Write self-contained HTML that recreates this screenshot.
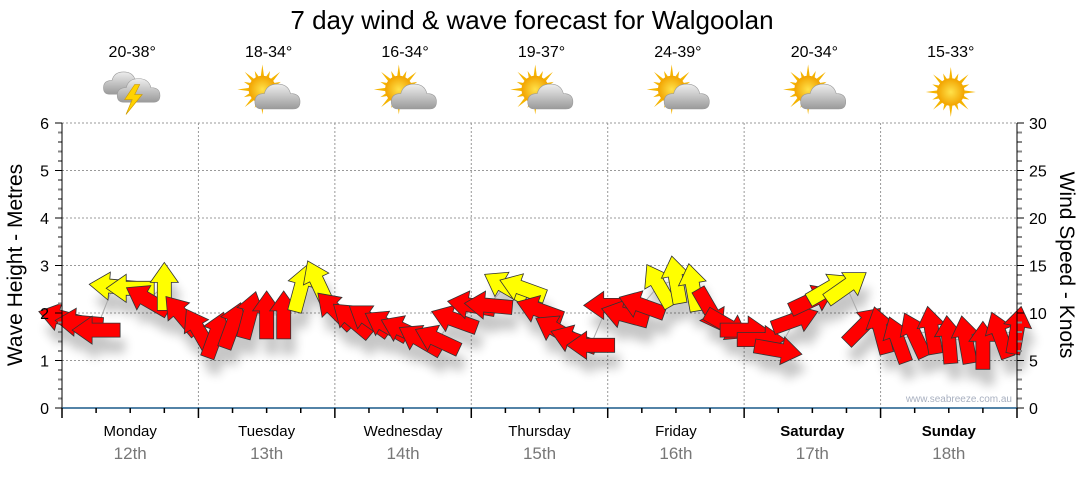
<!DOCTYPE html>
<html><head><meta charset="utf-8"><style>
body{margin:0;background:#fff;width:1080px;height:475px;overflow:hidden;font-family:"Liberation Sans",sans-serif}
svg text{font-family:"Liberation Sans",sans-serif}
</style></head><body>
<svg id="chart" width="1080" height="475" viewBox="0 0 1080 475" xmlns="http://www.w3.org/2000/svg">
<defs>
<filter id="sh" x="-50%" y="-50%" width="200%" height="200%"><feGaussianBlur stdDeviation="5"/></filter>
<radialGradient id="sunG"><stop offset="0" stop-color="#ffe24a"/><stop offset="1" stop-color="#f2a300"/></radialGradient>
<linearGradient id="cloudG" x1="0" y1="0" x2="0" y2="1"><stop offset="0" stop-color="#eee"/><stop offset="1" stop-color="#9a9a9a"/></linearGradient>
</defs>
<text x="532" y="29" font-size="26" text-anchor="middle" fill="#000">7 day wind &amp; wave forecast for Walgoolan</text>
<g id="grid"></g>
<g id="shadows" filter="url(#sh)" opacity="0.22"></g>
<g id="marks"></g>
<g id="axes"></g>
<g id="topg"></g>
<text x="1012" y="402" font-size="10" text-anchor="end" fill="#a8b0c0">www.seabreeze.com.au</text>
<text transform="translate(22,265) rotate(-90)" font-size="21" text-anchor="middle">Wave Height - Metres</text>
<text transform="translate(1060,265) rotate(90)" font-size="21" text-anchor="middle">Wind Speed - Knots</text>
</svg>
<script>
const days=["Monday","Tuesday","Wednesday","Thursday","Friday","Saturday","Sunday"];
const dates=["12th","13th","14th","15th","16th","17th","18th"];
const temps=["20-38°","18-34°","16-34°","19-37°","24-39°","20-34°","15-33°"];
const icons=["storm","partly","partly","partly","partly","partly","sun"];
const waveTicks=[0,1,2,3,4,5,6];
const windTicks=[0,5,10,15,20,25,30];
// wind: 3-hourly speed (knots) and arrow heading (degrees, 0=east/right, 90=up)
const windSpeed=[9.5,9,8.2,12.8,12.6,11.4,12.8,9.8, 8.2,7.7,8.7,9.8,9.8,9.8,12.6,13.2, 10.3,9.3,9.3,8.7,8.2,7.2,7.2,9.3, 10.8,10.8,12.8,12.6,10.3,8.2,7.2,6.6, 10.8,9.8,10.8,12.9,13.5,12.7,10.3,8.7, 8.2,7.2,6.1,9.3,11.4,12.6,12.8,8.7, 8.2,7.2,7.7,8.2,7.2,7.2,6.6,7.7,8.2];
const windDir=[165,175,180,175,180,150,90,130, 120,70,70,75,90,90,75,115, 135,140,145,150,155,150,155,160, 170,175,150,160,160,150,160,180, 180,165,160,120,100,100,-60,-30, 0,0,-10,20,25,30,35,45, 105,110,115,100,95,100,90,110,80];
const X0=62,X1=1017,Y0=408,Y1=123;
const xh=h=>X0+(X1-X0)*h/168;
const yw=v=>Y0-(Y0-Y1)*v/6;
const yk=v=>Y0-(Y0-Y1)*v/30;
const NS="http://www.w3.org/2000/svg";
function mk(tag,attrs,parent){const e=document.createElementNS(NS,tag);for(const k in attrs)e.setAttribute(k,attrs[k]);parent.appendChild(e);return e;}
const gridG=document.getElementById('grid'),axesG=document.getElementById('axes'),marksG=document.getElementById('marks'),shadowsG=document.getElementById('shadows'),topG=document.getElementById('topg');
waveTicks.forEach(v=>{if(v>0){const l=mk('line',{x1:X0,x2:X1,y1:yw(v),y2:yw(v),stroke:'#999','stroke-dasharray':'2,2','stroke-width':1},gridG);

}
const t=mk('text',{x:49,y:yw(v)+6,'font-size':16,'text-anchor':'end',fill:'#000'},axesG);t.textContent=v;

});
windTicks.forEach(v=>{const t=mk('text',{x:1029,y:yk(v)+6,'font-size':16,fill:'#000'},axesG);t.textContent=v;

});
for(let i=0;i<=30;i++){const y=yk(i);mk('line',{x1:X0-(i%5?4:7),x2:X0,y1:y,y2:y,stroke:i%5?'#888':'#000','stroke-width':i%5?2:1},axesG);mk('line',{x1:X1,x2:X1+(i%5?5:7),y1:y,y2:y,stroke:i%5?'#888':'#000','stroke-width':i%5?2:1},axesG);}
mk('line',{x1:X0,x2:X0,y1:Y1,y2:Y0,stroke:'#000'},axesG);
mk('line',{x1:X1,x2:X1,y1:Y1,y2:Y0,stroke:'#000'},axesG);
const xa=mk('line',{x1:X0,x2:X1,y1:Y0,y2:Y0,stroke:'#1a5a8a','stroke-width':1.5},axesG);


for(let h=0;h<=168;h+=6){const x=xh(h);mk('line',{x1:x,x2:x,y1:Y0,y2:Y0+(h%24?5:10),stroke:'#000','stroke-width':1.5},axesG);}
days.forEach((d,i)=>{const cx=xh(i*24+12);
if(i>0){const l=mk('line',{x1:xh(i*24),x2:xh(i*24),y1:Y1,y2:Y0,stroke:'#999','stroke-dasharray':'2,2'},gridG);

}
const t=mk('text',{x:cx,y:436,'font-size':15,'text-anchor':'middle','font-weight':i>=5?'bold':'normal'},axesG);t.textContent=d;


const t2=mk('text',{x:cx,y:459,'font-size':17,'text-anchor':'middle',fill:'#777'},axesG);t2.textContent=dates[i];


const t3=mk('text',{x:cx+2,y:57,'font-size':16,'text-anchor':'middle'},topG);t3.textContent=temps[i];


const g=mk('g',{transform:`translate(${cx+2},92) scale(1.25)`},topG);


const cloud=(dx,dy,s)=>{const c=mk('g',{transform:`translate(${dx},${dy}) scale(${s})`},g);
mk('path',{d:'M-14,8 Q-20,8 -20,2 Q-20,-5 -12,-5 Q-10,-13 -1,-13 Q8,-13 10,-5 Q18,-5 18,2 Q18,8 12,8 Z',fill:'url(#cloudG)',stroke:'#999','stroke-width':0.5},c);};
const sun=(dx,dy)=>{for(let a=0;a<360;a+=22.5){const r=a*Math.PI/180;const l=(a/22.5)%2?16:20;mk('polygon',{points:`${dx+Math.cos(r)*l},${dy+Math.sin(r)*l} ${dx+Math.cos(r+0.14)*10},${dy+Math.sin(r+0.14)*10} ${dx+Math.cos(r-0.14)*10},${dy+Math.sin(r-0.14)*10}`,fill:'#f5b400'},g);}
mk('circle',{cx:dx,cy:dy,r:11,fill:'url(#sunG)'},g);};
if(icons[i]=='storm'){cloud(-6,-5,0.85);cloud(6,1,0.9);mk('polygon',{points:'2,-6 -6,6 0,6 -5,18 8,2 2,2 6,-6',fill:'#ffd200',stroke:'#c90','stroke-width':0.5},g);}
else if(icons[i]=='partly'){sun(-5,-2);cloud(8,6,0.95);}
else sun(0,0);
});
const pts=windSpeed.map((s,i)=>[xh(i*3),yk(s)]);
const pl=mk('polyline',{points:pts.map(p=>p.join(',')).join(' '),fill:'none',stroke:'#aaa','stroke-width':1},marksG);


const shape='-24,-7 4,-7 4,-14 24,0 4,14 4,7 -24,7';
windSpeed.forEach((s,i)=>{const [x,y]=pts[i];const a=-windDir[i];
mk('polygon',{points:shape,fill:'#000',transform:`translate(${x+5},${y+16}) rotate(${a})`},shadowsG);
const p=mk('polygon',{points:shape,fill:s>=12.3?'#ffff00':'#ff0000',stroke:'#333','stroke-width':0.8,transform:`translate(${x},${y}) rotate(${a})`},marksG);

});
</script>
</body></html>
